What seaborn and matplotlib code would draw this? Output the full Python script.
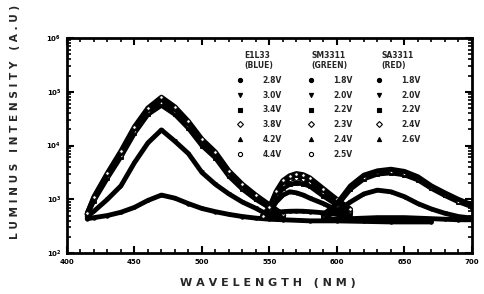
import numpy as np
import pandas as pd
import matplotlib
matplotlib.use("Agg")
import matplotlib.pyplot as plt
from matplotlib.lines import Line2D
from matplotlib.legend import Legend
from matplotlib.ticker import MultipleLocator, LogLocator, NullFormatter
import seaborn as sns

# --- data ---
blue_wl = [415, 420, 430, 440, 450, 460, 470, 480, 490, 500, 510, 520, 530, 540, 550, 560]
blue_44 = [550, 1120, 3090, 7940, 22400, 50100, 79400, 52500, 28200, 13200, 7590, 3390, 1910, 1200, 794, 525]
blue_42 = [540, 1080, 2950, 7400, 21000, 47000, 72000, 48000, 26000, 12300, 7100, 3200, 1800, 1150, 760, 520]
blue_38 = [530, 1000, 2700, 6800, 19000, 43000, 65000, 44000, 24000, 11500, 6600, 3000, 1700, 1100, 730, 510]
blue_34 = [520, 950, 2500, 6200, 17000, 38000, 56000, 38000, 21000, 10000, 5900, 2700, 1550, 1000, 700, 500]
blue_30 = [480, 600, 1000, 1780, 4790, 11200, 19500, 12000, 7080, 3160, 1900, 1260, 890, 680, 500, 457]
blue_28_wl = [415, 420, 430, 440, 450, 460, 470, 480, 490, 500, 510, 520, 530, 540, 550, 560, 580, 600, 620, 640, 670]
blue_28 = [437, 457, 500, 575, 708, 955, 1200, 1050, 832, 676, 589, 525, 479, 447, 427, 417, 398, 398, 389, 380, 380]

green_wl = [545, 550, 555, 560, 565, 570, 575, 580, 590, 600, 610]
green_25 = [500, 710, 1410, 2240, 2750, 3020, 2880, 2510, 1580, 1000, 660]
green_24 = [490, 690, 1350, 2100, 2600, 2800, 2700, 2350, 1480, 950, 640]
green_23 = [480, 660, 1250, 1900, 2350, 2500, 2400, 2100, 1350, 880, 620]
green_22 = [470, 630, 1120, 1600, 1900, 2000, 1950, 1750, 1150, 790, 590]
green_20 = [447, 562, 891, 1200, 1380, 1320, 1200, 1050, 832, 631, 525]
green_18 = [500, 550, 575, 590, 600, 603, 600, 589, 562, 525, 480]

red_wl = [590, 600, 610, 620, 630, 640, 650, 660, 670, 680, 690, 700]
red_26 = [525, 832, 1780, 2820, 3390, 3630, 3310, 2630, 1780, 1320, 1000, 794]
red_24 = [510, 800, 1680, 2650, 3200, 3400, 3100, 2500, 1700, 1250, 950, 760]
red_22 = [500, 760, 1550, 2400, 2950, 3100, 2850, 2300, 1600, 1180, 900, 730]
red_20 = [447, 603, 891, 1260, 1480, 1380, 1120, 832, 661, 550, 479, 447]
red_18 = [417, 427, 437, 447, 457, 457, 457, 447, 437, 427, 417, 417]

blue_volts = ["2.8V", "3.0V", "3.4V", "3.8V", "4.2V", "4.4V"]
green_volts = ["1.8V", "2.0V", "2.2V", "2.3V", "2.4V", "2.5V"]
red_volts = ["1.8V", "2.0V", "2.2V", "2.4V", "2.6V"]

# marker per row: filled circle, down tri, square, open diamond, up tri, open circle
MARKERS = [("o", "black"), ("v", "black"), ("s", "black"), ("D", "white"), ("^", "black"), ("o", "white")]

groups = [
    ("E1L33\n(BLUE)", blue_volts,
     [(blue_28_wl, blue_28), (blue_wl, blue_30), (blue_wl, blue_34),
      (blue_wl, blue_38), (blue_wl, blue_42), (blue_wl, blue_44)]),
    ("SM3311\n(GREEN)", green_volts,
     [(green_wl, green_18), (green_wl, green_20), (green_wl, green_22),
      (green_wl, green_23), (green_wl, green_24), (green_wl, green_25)]),
    ("SA3311\n(RED)", red_volts,
     [(red_wl, red_18), (red_wl, red_20), (red_wl, red_22),
      (red_wl, red_24), (red_wl, red_26)]),
]

sns.set_theme(style="ticks")
plt.rcParams["font.family"] = ["DejaVu Sans"]
plt.rcParams["font.weight"] = "bold"
plt.rcParams["mathtext.default"] = "bf"

fig = plt.figure(figsize=(4.85, 2.94), dpi=100, facecolor="white")
ax = fig.add_axes([0.138, 0.139, 0.835, 0.732])

for title, volts, series in groups:
    for i, (wl, vals) in enumerate(series):
        mk, face = MARKERS[i]
        sns.lineplot(x=wl, y=vals, ax=ax, color="black", linewidth=3.5,
                     marker=mk, markersize=2.5, markerfacecolor=face,
                     markeredgecolor="black", markeredgewidth=0.6, sort=False)

ax.set_yscale("log")
ax.set_xlim(400, 700)
ax.set_ylim(1e2, 1e6)
ax.xaxis.set_major_locator(MultipleLocator(50))
ax.xaxis.set_minor_locator(MultipleLocator(10))
ax.yaxis.set_major_locator(LogLocator(base=10, numticks=10))
ax.yaxis.set_minor_locator(LogLocator(base=10, subs=np.arange(2, 10), numticks=50))
ax.yaxis.set_minor_formatter(NullFormatter())
ax.tick_params(which="both", direction="in", top=True, right=True, colors="black")
ax.tick_params(which="major", length=5, width=1.5, labelsize=5, pad=4)
ax.tick_params(which="minor", length=3, width=1.2)
for s in ax.spines.values():
    s.set_linewidth(2)
    s.set_color("black")
ax.set_xlabel("")
ax.set_ylabel("")
for lbl in ax.get_xticklabels() + ax.get_yticklabels():
    lbl.set_fontweight("bold")

# legends: one column per LED type
anchors = [0.405, 0.58, 0.748]
for (title, volts, series), xa in zip(groups, anchors):
    handles = [Line2D([], [], linestyle="none", marker=MARKERS[i][0], color="black",
                      markerfacecolor=MARKERS[i][1], markersize=3.0, markeredgewidth=0.8)
               for i in range(len(volts))]
    leg = Legend(ax, handles, volts, title=title, loc="upper left", bbox_to_anchor=(xa, 0.965),
                 frameon=False, prop={"size": 5.5, "weight": "bold"},
                 title_fontproperties={"size": 5.5, "weight": "bold"},
                 handletextpad=2.4, labelspacing=0.75, borderpad=0.2, handlelength=1.0)
    ax.add_artist(leg)

fig.text(268 / 485, 1 - 283 / 294, "W A V E L E N G T H   ( N M )", ha="center", va="center",
         fontsize=8, fontweight="bold")
fig.text(15 / 485, 1 - 122 / 294, "L U M I N U S   I N T E N S I T Y   ( A . U )", rotation=90,
         ha="center", va="center", fontsize=7.6, fontweight="bold")

fig.savefig("out.png", dpi=100, facecolor="white")
